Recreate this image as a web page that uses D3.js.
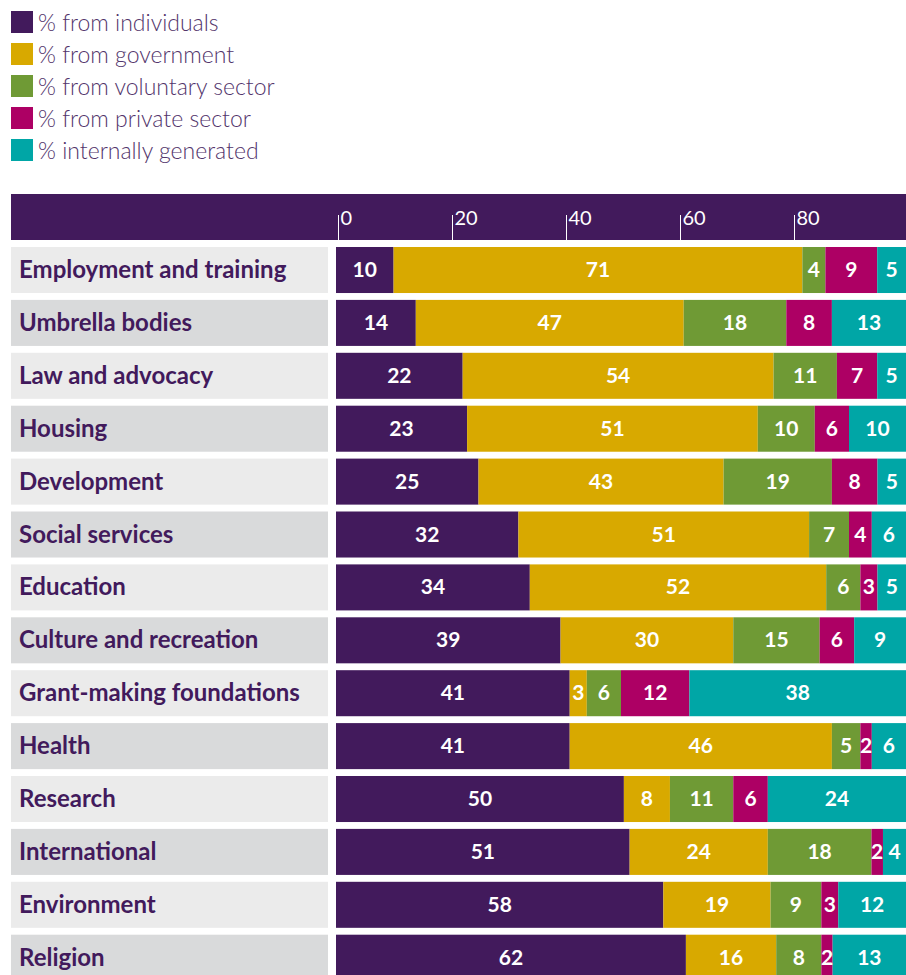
<!DOCTYPE html>
<html>
<head>
<meta charset="utf-8">
<script src="https://cdn.jsdelivr.net/npm/d3@7"></script>
<style>
  body { margin: 0; background: #fff; }
  text { font-family: Lato, "Open Sans", sans-serif; }
</style>
</head>
<body>
<div id="chart"></div>
<script>
// categories (top to bottom)
var categories = ["Employment and training", "Umbrella bodies", "Law and advocacy", "Housing",
  "Development", "Social services", "Education", "Culture and recreation",
  "Grant-making foundations", "Health", "Research", "International", "Environment", "Religion"];

// series values (%)
var individuals = [10, 14, 22, 23, 25, 32, 34, 39, 41, 41, 50, 51, 58, 62];
var government  = [71, 47, 54, 51, 43, 51, 52, 30,  3, 46,  8, 24, 19, 16];
var voluntary   = [ 4, 18, 11, 10, 19,  7,  6, 15,  6,  5, 11, 18,  9,  8];
var privateSec  = [ 9,  8,  7,  6,  8,  4,  3,  6, 12,  2,  6,  2,  3,  2];
var internal    = [ 5, 13,  5, 10,  5,  6,  5,  9, 38,  6, 24,  4, 12, 13];

var seriesNames = ["% from individuals", "% from government", "% from voluntary sector",
  "% from private sector", "% internally generated"];
var seriesColors = ["#421a5c", "#d8a900", "#6f9a35", "#ad0064", "#00a6a6"];
var tickValues = [0, 20, 40, 60, 80];

var series = [individuals, government, voluntary, privateSec, internal];

var width = 906, height = 975;
var svg = d3.select("#chart").append("svg")
    .attr("width", width)
    .attr("height", height);

// legend
var legend = svg.append("g").attr("transform", "translate(11,11)");
seriesNames.forEach(function(name, i) {
  var g = legend.append("g").attr("transform", "translate(0," + (i * 32) + ")");
  g.append("rect").attr("width", 22).attr("height", 22).attr("fill", seriesColors[i]);
  g.append("text")
    .attr("x", 27).attr("y", 20)
    .attr("font-size", 23).attr("font-weight", 300)
    .attr("fill", "#52346b")
    .text(name);
});

// scales
var step = 52.9, pad = 0.13;
var x = d3.scaleLinear().domain([0, 100]).range([336, 906]);
var y = d3.scaleBand()
    .domain(categories)
    .range([247, 247 + step * (categories.length - pad)])
    .paddingInner(pad);

// header band with axis
svg.append("rect")
  .attr("x", 11).attr("y", 194)
  .attr("width", width - 11).attr("height", 46)
  .attr("fill", "#421a5c");

var axis = svg.append("g")
  .attr("transform", "translate(2,240)")
  .call(d3.axisTop(x).tickValues(tickValues).tickSize(25).tickPadding(0));
axis.select(".domain").remove();
axis.selectAll(".tick line").attr("stroke", "#fff").attr("stroke-width", 1);
axis.selectAll(".tick text")
  .attr("fill", "#fff")
  .attr("font-size", 20)
  .attr("font-family", "Lato, sans-serif")
  .attr("text-anchor", "start")
  .attr("x", 2)
  .attr("y", -15);

// build stacked rows, normalised to each row's total
var rows = categories.map(function(c, i) {
  var vals = series.map(function(s) { return s[i]; });
  var total = d3.sum(vals);
  var acc = 0;
  return {
    category: c,
    segs: vals.map(function(v, k) {
      var s = { v: v, k: k, x0: acc / total * 100, x1: (acc + v) / total * 100 };
      acc += v;
      return s;
    })
  };
});

var row = svg.selectAll(".row")
    .data(rows)
  .enter().append("g")
    .attr("class", "row")
    .attr("transform", function(d) { return "translate(0," + y(d.category) + ")"; });

row.append("rect")
  .attr("x", 11).attr("width", 317)
  .attr("height", y.bandwidth())
  .attr("fill", function(d, i) { return i % 2 ? "#d9dadb" : "#ebebeb"; });

row.append("text")
  .attr("x", 19)
  .attr("y", y.bandwidth() / 2 + 8)
  .attr("font-size", 24).attr("font-weight", 700)
  .attr("fill", "#421a5c")
  .text(function(d) { return d.category; });

var seg = row.selectAll(".seg")
    .data(function(d) { return d.segs; })
  .enter();

seg.append("rect")
  .attr("class", "seg")
  .attr("x", function(d) { return x(d.x0); })
  .attr("width", function(d) { return x(d.x1) - x(d.x0); })
  .attr("height", y.bandwidth())
  .attr("fill", function(d) { return seriesColors[d.k]; });

seg.append("text")
  .attr("x", function(d) { return (x(d.x0) + x(d.x1)) / 2; })
  .attr("y", y.bandwidth() / 2 + 7)
  .attr("text-anchor", "middle")
  .attr("font-size", 21).attr("font-weight", 700)
  .attr("fill", "#fff")
  .text(function(d) { return d.v; });
</script>
</body>
</html>
